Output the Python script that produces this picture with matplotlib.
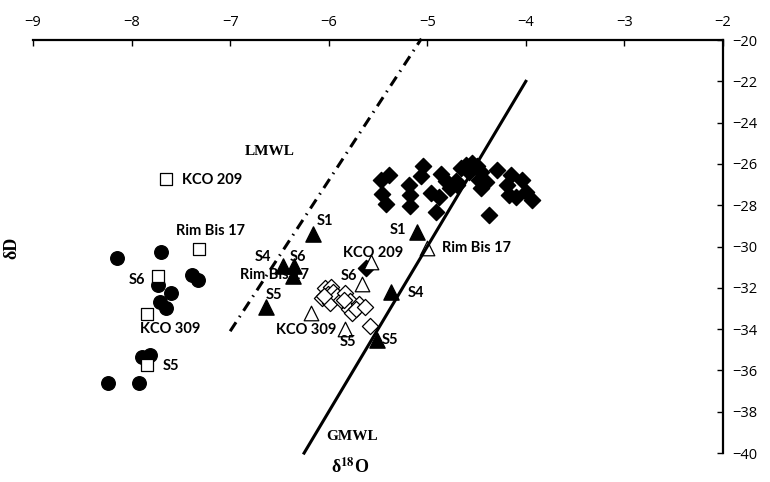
import numpy as np
import matplotlib.pyplot as plt

plt.rcParams['mathtext.fontset'] = 'stix'

# Filled circles
circle_x = [-8.15, -7.70, -7.73, -7.39, -7.33, -7.71, -7.60, -7.65, -7.89, -7.81, -8.24, -7.92]
circle_y = [-30.57, -30.25, -31.86, -31.38, -31.62, -32.67, -32.27, -32.98, -35.35, -35.25, -36.62, -36.62]

# Open squares (labelled)
square_names = ['KCO 209', 'Rim Bis 17', 'S6', 'KCO 309', 'S5']
square_x = [-7.65, -7.32, -7.73, -7.84, -7.84]
square_y = [-26.75, -30.14, -31.43, -33.27, -35.74]

# Filled triangles (labelled)
ftri_names = ['S1', 'S4', 'S6', 'Rim Bis 17', 'S5', 'S1', 'S4', 'S5']
ftri_x = [-6.155, -6.468, -6.357, -6.367, -6.641, -5.101, -5.365, -5.506]
ftri_y = [-29.39, -30.94, -30.94, -31.43, -32.93, -29.30, -32.20, -34.53]

# Open triangles (labelled)
otri_names = ['Rim Bis 17', 'KCO 209', 'S6', 'KCO 309', 'S5']
otri_x = [-5.00, -5.567, -5.658, -6.175, -5.830]
otri_y = [-30.07, -30.75, -31.82, -33.22, -34.00]

# Filled diamonds
fdia_x = [-5.466, -5.385, -5.456, -5.415, -5.182, -5.172, -5.172, -5.041, -5.061, -4.909,
          -4.959, -4.878, -4.858, -4.808, -4.767, -4.706, -4.656, -4.605, -4.544, -4.494,
          -4.453, -4.473, -4.403, -4.453, -4.372, -4.291, -4.149, -4.190, -4.038, -4.170,
          -4.099, -3.997, -3.937, -4.696, -4.575, -5.618]
fdia_y = [-26.78, -26.54, -27.46, -27.94, -27.02, -27.51, -28.04, -26.10, -26.59, -28.33,
          -27.41, -27.60, -26.49, -26.83, -27.17, -26.83, -26.20, -26.05, -25.96, -26.10,
          -26.39, -26.78, -26.88, -27.17, -28.47, -26.30, -26.54, -27.02, -26.78, -27.51,
          -27.60, -27.36, -27.75, -27.02, -26.39, -31.04]

# Open diamonds
odia_x = [-6.033, -5.972, -6.073, -6.003, -5.952, -5.992, -5.911, -5.871, -5.830, -5.780,
          -5.790, -5.759, -5.689, -5.719, -5.628, -5.577, -5.841, -6.043]
odia_y = [-32.01, -31.96, -32.49, -32.30, -32.20, -32.74, -32.40, -32.59, -32.25, -32.64,
          -33.03, -33.22, -32.78, -33.03, -32.93, -33.85, -32.59, -32.40]

# Meteoric water lines: dD = slope * d18O + intercept
gmwl_slope, gmwl_intercept, gmwl_range = 8.0, 10.0, (-6.25, -4.0)
lmwl_slope, lmwl_intercept, lmwl_range = 7.3, 17.0, (-7.0, -5.06)

# label text positions (data coords)
square_lab = [(-7.49, -26.78, 'left'), (-7.55, -29.25, 'left'), (-7.86, -31.62, 'right'),
              (-7.61, -34.0, 'center'), (-7.68, -35.79, 'left')]
ftri_lab = [(-6.04, -28.77), (-6.67, -30.5), (-6.31, -30.5), (-6.55, -31.38), (-6.56, -32.35),
            (-5.30, -29.2), (-5.11, -32.25), (-5.38, -34.53)]
otri_lab = [(-4.85, -30.07, 'left'), (-5.55, -30.31, 'center'), (-5.79, -31.43, 'center'),
            (-6.23, -34.04, 'center'), (-5.81, -34.62, 'center')]

fig = plt.figure(figsize=(7.7, 4.82), dpi=100)
ax = fig.add_axes([0.0429, 0.060, 0.896, 0.857])

# water lines
gx = np.array(gmwl_range)
ax.plot(gx, gmwl_slope * gx + gmwl_intercept, color='black', lw=2.2, zorder=4, clip_on=False)
lx = np.array(lmwl_range)
ax.plot(lx, lmwl_slope * lx + lmwl_intercept, color='black', lw=2.2,
        linestyle=(0, (3.5, 2.0, 0.5, 2.0)), zorder=1, clip_on=False)

ax.scatter(circle_x, circle_y, s=95, marker='o', color='black', zorder=3)
ax.scatter(square_x, square_y, s=80, marker='s', facecolor='white', edgecolor='black',
           linewidth=0.9, zorder=3)
ax.scatter(fdia_x, fdia_y, s=68, marker='D', color='black', zorder=3)
ax.scatter(odia_x, odia_y, s=68, marker='D', facecolor='white', edgecolor='black',
           linewidth=0.9, zorder=3)
ax.scatter(otri_x, otri_y, s=110, marker='^', facecolor='white', edgecolor='black',
           linewidth=0.9, zorder=3)
ax.scatter(ftri_x, ftri_y, s=120, marker='^', color='black', zorder=3)

lab_font = dict(family='Lato', fontweight='bold', fontsize=10.5, va='center')
for name, (tx, ty, ha) in zip(square_names, square_lab):
    ax.text(tx, ty, name, ha=ha, **lab_font)
for name, (tx, ty) in zip(ftri_names, ftri_lab):
    ax.text(tx, ty, name, ha='center', **lab_font)
for name, (tx, ty, ha) in zip(otri_names, otri_lab):
    ax.text(tx, ty, name, ha=ha, **lab_font)

serif = dict(family='Liberation Serif', fontweight='bold', fontsize=11)
ax.text(-6.6, -25.4, 'LMWL', ha='center', va='center', **serif)
ax.text(-5.76, -39.2, 'GMWL', ha='center', va='center', **serif)

# axes: only top and right
ax.set_xlim(-9, -2)
ax.set_ylim(-40, -20)
ax.set_xticks(np.arange(-9, -1, 1))
ax.set_yticks(np.arange(-40, -19, 2))
ax.xaxis.tick_top()
ax.yaxis.tick_right()
ax.spines['left'].set_visible(False)
ax.spines['bottom'].set_visible(False)
ax.spines['top'].set_linewidth(1.6)
ax.spines['right'].set_linewidth(1.6)
ax.tick_params(direction='in', length=4, width=1, labelsize=10.5, pad=7)
for lab in ax.get_xticklabels() + ax.get_yticklabels():
    lab.set_family('Open Sans')

fig.text(0.016, 0.485, 'δD', rotation=90, ha='center', va='center',
         family='Liberation Serif', fontweight='bold', fontsize=13)
fig.text(0.455, 0.031, r'δ$^{\mathbf{18}}$O', ha='center', va='center',
         family='Liberation Serif', fontweight='bold', fontsize=13)

fig.savefig('out.png', dpi=100)
